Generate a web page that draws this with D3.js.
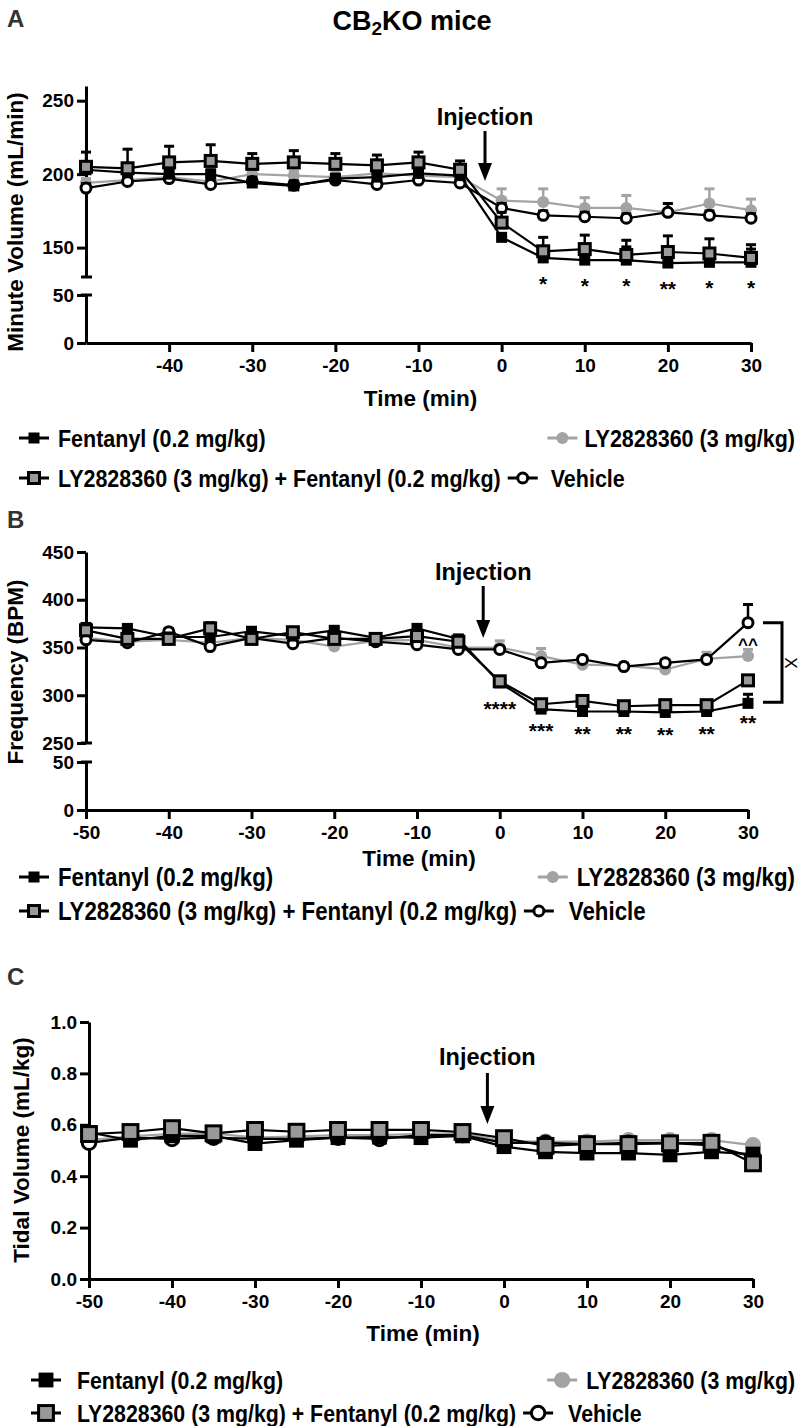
<!DOCTYPE html>
<html><head><meta charset="utf-8">
<script src="https://cdn.jsdelivr.net/npm/d3@7"></script>
<style>
body{margin:0;background:#fff}
text{font-family:"Liberation Sans",Arial,Helvetica,sans-serif;font-weight:bold;fill:#000}
</style>
</head><body>
<svg id="chart" width="800" height="1426"></svg>
<script>
// ---------------- DATA ----------------
const times = [-50,-45,-40,-35,-30,-25,-20,-15,-10,-5,0,5,10,15,20,25,30];
const seriesNames = ["Fentanyl (0.2 mg/kg)","LY2828360 (3 mg/kg) + Fentanyl (0.2 mg/kg)","LY2828360 (3 mg/kg)","Vehicle"];

// Panel A: Minute Volume (mL/min)
const mvFentanyl = [203,201,200,200,194,192,197,198,200.5,199,157,143,141.5,141.5,139.5,140,140];
const mvLyFent   = [205,204,208,209,207,208,207,206,208,203,167,147.5,149,145,147,146,143];
const mvLy       = [194,196,198,195,200,199,198,200.5,199,198,182,181,177,177,174,180,175.5];
const mvVehicle  = [190.5,195,197,193,195,192.5,196,193,196,194,177,172,171,170,174,172,170];
const mvFentanylSem = [3,3,3,3,2,2,3,3,3,3,2,3,3,9,3,3,12];
const mvLyFentSem   = [10,13,11,11,7,8,7,7,7,6,7,9.5,9.5,10,11,10,6];
const mvLySem       = [3,3,3,3,3,3,3,3,3,3,8,9,7,8.5,6,10,7.5];
const mvVehicleSem  = [3,3,3,3,3,3,3,3,3,3,3,3,3,3,6,3,3];
const mvStarTimes = [5,10,15,20,25,30];
const mvStars = ["*","*","*","**","*","*"];
const mvTicksUpper = [150,200,250];
const mvTicksLower = [0,50];

// Panel B: Frequency (BPM)
const frFentanyl = [371,370,361,361,367,362,368,360,370,359,313,285.5,283,283,282,283,291.5];
const frLyFent   = [368,359,359,370,359,366,359,359,362,356,314.6,290.6,294,288.5,289.6,289.6,315.6];
const frLy       = [360,356,358,355,360,358,351,357,358,350,350,341,332,331,327,338,341];
const frVehicle  = [358,355,366.6,351,360,354,360,356,353,348,348,334,337.5,330,334,337.5,376];
const frFentanylSem = [3,3,3,3,3,3,3,3,3,3,3,3,3,3,3,3,9.5];
const frLyFentSem   = [3,3,3,6,3,3,3,3,3,3,3,3,3,3,3,3,3];
const frLySem       = [3,3,3,3,3,3,3,3,3,3,7,8,3,3,3,7,7];
const frVehicleSem  = [3,3,3,3,3,3,3,3,3,3,3,3,3,3,3,3,19];
const frStarTimes = [0,5,10,15,20,25,30];
const frStars = ["****","***","**","**","**","**","**"];
const frTicksUpper = [250,300,350,400,450];
const frTicksLower = [0,50];

// Panel C: Tidal Volume (mL/kg)
const tvFentanyl = [0.57,0.54,0.557,0.557,0.527,0.54,0.55,0.552,0.55,0.557,0.515,0.495,0.49,0.49,0.483,0.495,0.486];
const tvLyFent   = [0.564,0.572,0.587,0.567,0.58,0.573,0.58,0.58,0.58,0.572,0.548,0.518,0.525,0.525,0.528,0.53,0.45];
const tvLy       = [0.54,0.555,0.565,0.567,0.55,0.555,0.56,0.56,0.565,0.567,0.536,0.535,0.535,0.54,0.54,0.54,0.521];
const tvVehicle  = [0.53,0.55,0.545,0.55,0.545,0.545,0.55,0.545,0.56,0.56,0.53,0.53,0.525,0.53,0.53,0.52,0.475];
const tvSem      = [0,0,0,0,0,0,0,0,0,0,0,0,0,0,0,0,0];
const tvTicks = [0,0.2,0.4,0.6,0.8,1.0];

const xTicksA = [-40,-30,-20,-10,0,10,20,30];
const xTicksBC = [-50,-40,-30,-20,-10,0,10,20,30];
const injectionTime = -2;

// ---------------- DRAWING ----------------
const svg = d3.select("#chart");
const GRAY = "#a3a3a3", SQFILL = "#999999";
const SX = 0.87; // horizontal condensation of legend text

function styleFor(i, big){
  const k = big ? 1.35 : 1;
  return [
    {line:"#000", err:"#000", shape:"square", size:11*k, fill:"#000", stroke:"none", sw:0},
    {line:"#000", err:"#000", shape:"square", size:11*k, fill:SQFILL, stroke:"#000", sw:3},
    {line:GRAY, err:GRAY, shape:"circle", size:6*k, fill:GRAY, stroke:"none", sw:0},
    {line:"#000", err:"#000", shape:"circle", size:5*k, fill:"#fff", stroke:"#000", sw:3}
  ][i];
}

function drawMarker(g, st, cx, cy){
  if(st.shape==="square"){
    g.append("rect").attr("x",cx-st.size/2).attr("y",cy-st.size/2)
      .attr("width",st.size).attr("height",st.size)
      .attr("fill",st.fill).attr("stroke",st.stroke).attr("stroke-width",st.sw);
  } else {
    g.append("circle").attr("cx",cx).attr("cy",cy).attr("r",st.size)
      .attr("fill",st.fill).attr("stroke",st.stroke).attr("stroke-width",st.sw);
  }
}

function styleAxis(g, fs){
  g.select(".domain").attr("stroke","#000").attr("stroke-width",3);
  g.selectAll(".tick line").attr("stroke","#000").attr("stroke-width",3);
  g.selectAll(".tick text").attr("fill","#000").style("font-size",fs+"px")
    .style("font-family",'"Liberation Sans",Arial,sans-serif').style("font-weight","bold");
}

const hyphenInt = d => String(d);
const hyphenOne = d => d.toFixed(1);

function drawPanel(p){
  const g = svg.append("g");
  const x = d3.scaleLinear().domain([-50,30]).range(p.xRange);
  const segs = p.segments.map(s => ({...s, scale: d3.scaleLinear().domain(s.domain).range(s.range)}));
  const y = v => { const s = segs.find(s => v>=s.domain[0]-1e-9 && v<=s.domain[1]+1e-9) || segs[segs.length-1]; return s.scale(v); };
  const axX = p.xRange[0];

  segs.forEach((s,i) => {
    const ax = g.append("g").attr("transform",`translate(${axX},0)`)
      .call(d3.axisLeft(s.scale).tickValues(s.ticks).tickSize(9).tickSizeOuter(0).tickPadding(3)
        .tickFormat(p.yFormat || hyphenInt));
    styleAxis(ax, p.tickFs);
    if(segs.length>1){
      if(i===0) g.append("line").attr("x1",axX-5).attr("x2",axX+6).attr("y1",s.range[0]).attr("y2",s.range[0]).attr("stroke","#000").attr("stroke-width",3);
      if(i===1) g.append("line").attr("x1",axX-5).attr("x2",axX+6).attr("y1",s.range[1]).attr("y2",s.range[1]).attr("stroke","#000").attr("stroke-width",3);
    }
  });
  const xa = g.append("g").attr("transform",`translate(0,${p.xAxisY})`)
    .call(d3.axisBottom(x).tickValues(p.xTicks).tickSize(9).tickSizeOuter(0).tickPadding(7).tickFormat(hyphenInt));
  styleAxis(xa, p.tickFs);

  g.append("text").attr("transform",`translate(${p.yTitleX},${p.yTitleY}) rotate(-90)`)
    .attr("text-anchor","middle").style("font-size",p.titleFs+"px").text(p.yTitle);
  g.append("text").attr("x",(x(-50)+x(30))/2+2).attr("y",p.xTitleY).attr("text-anchor","middle")
    .style("font-size",p.titleFs+"px").text("Time (min)");
  g.append("text").attr("x",7).attr("y",p.letterY).style("font-size","24px").style("fill","#333").text(p.letter);

  const ix = x(injectionTime);
  g.append("text").attr("x",ix).attr("y",p.injTextY).attr("text-anchor","middle").style("font-size","23.5px").text("Injection");
  g.append("line").attr("x1",ix).attr("x2",ix).attr("y1",p.arrow[0]).attr("y2",p.arrow[1]-14).attr("stroke","#000").attr("stroke-width",3);
  g.append("path").attr("d",`M${ix-7},${p.arrow[1]-18}L${ix+7},${p.arrow[1]-18}L${ix},${p.arrow[1]}Z`).attr("fill","#000");

  const order = [2,3,0,1];
  order.forEach(si => {
    const vals = p.series[si], sem = p.sems[si];
    const st = styleFor(si, p.big);
    const sg = g.append("g");
    times.forEach((t,i) => {
      if(!sem[i]) return;
      const cx = x(t), cy = y(vals[i]), ty = y(vals[i]+sem[i]);
      sg.append("line").attr("x1",cx).attr("x2",cx).attr("y1",cy).attr("y2",ty).attr("stroke",st.err).attr("stroke-width",2.5);
      sg.append("line").attr("x1",cx-5).attr("x2",cx+5).attr("y1",ty).attr("y2",ty).attr("stroke",st.err).attr("stroke-width",3);
    });
    sg.append("path").datum(vals).attr("fill","none").attr("stroke",st.line).attr("stroke-width",2.2)
      .attr("d", d3.line().x((d,i)=>x(times[i])).y(d=>y(d)));
    times.forEach((t,i) => drawMarker(sg, st, x(t), y(vals[i])));
  });

  if(p.starTimes){
    p.starTimes.forEach((t,i) => {
      const fi = times.indexOf(t);
      g.append("text").attr("x",x(t)).attr("y",y(p.series[0][fi])+p.starOffset[i])
        .attr("text-anchor","middle").style("font-size","21px").text(p.stars[i]);
    });
  }
  return {x,y,g};
}

function legendText(g, str, tx, ty, fs, end){
  const t = g.append("text").attr("transform",`translate(${tx},${ty}) scale(${SX},1)`)
    .attr("dy","0.36em").style("font-size",fs+"px").text(str);
  if(end) t.attr("text-anchor","end");
  return t.node().getComputedTextLength()*SX;
}
function legendSymbol(g, si, cx, ty, big){
  const st = styleFor(si, big);
  g.append("line").attr("x1",cx-15).attr("x2",cx+15).attr("y1",ty).attr("y2",ty).attr("stroke",st.line).attr("stroke-width",3);
  drawMarker(g, st, cx, ty);
}
function drawLegend(L){
  const g = svg.append("g");
  legendSymbol(g, 0, L.lx, L.r1, L.big);
  legendText(g, seriesNames[0], L.tx, L.r1, L.fs);
  legendSymbol(g, 1, L.lx, L.r2, L.big);
  const w2 = legendText(g, seriesNames[1], L.tx, L.r2, L.fs);
  const w3 = legendText(g, seriesNames[2], 795, L.r1, L.fs, true);
  legendSymbol(g, 2, 795 - w3 - L.rgap, L.r1, L.big);
  const vx = L.tx + w2 + L.vgap;
  legendSymbol(g, 3, vx, L.r2, L.big);
  legendText(g, seriesNames[3], vx + L.rgap + 6, L.r2, L.fs);
}

// Title
svg.append("text").attr("x",412).attr("y",30).attr("text-anchor","middle").style("font-size","27px")
  .call(t => { t.append("tspan").text("CB"); t.append("tspan").attr("baseline-shift","-25%").style("font-size","19px").text("2"); t.append("tspan").text("KO mice"); });

// Panel A
drawPanel({
  letter:"A", letterY:27, xRange:[86,751], xAxisY:343,
  segments:[{domain:[130,260],range:[277,86],ticks:mvTicksUpper},{domain:[0,50],range:[343,295],ticks:mvTicksLower}],
  xTicks:xTicksA, tickFs:19, titleFs:22.5,
  yTitle:"Minute Volume (mL/min)", yTitleX:23, yTitleY:222, xTitleY:406,
  injTextY:125, arrow:[131,181],
  series:[mvFentanyl,mvLyFent,mvLy,mvVehicle], sems:[mvFentanylSem,mvLyFentSem,mvLySem,mvVehicleSem],
  starTimes:mvStarTimes, stars:mvStars, starOffset:[33,33,33,33,33,33]
});
drawLegend({fs:24.7, lx:34, tx:58, r1:438, r2:478, rgap:22, vgap:22, big:false});

// Panel B
const pb = drawPanel({
  letter:"B", letterY:528, xRange:[86,748], xAxisY:810,
  segments:[{domain:[250,450],range:[743,552],ticks:frTicksUpper},{domain:[0,50],range:[810,762],ticks:frTicksLower}],
  xTicks:xTicksBC, tickFs:19, titleFs:22.5,
  yTitle:"Frequency (BPM)", yTitleX:23, yTitleY:672, xTitleY:866,
  injTextY:580, arrow:[586,638],
  series:[frFentanyl,frLyFent,frLy,frVehicle], sems:[frFentanylSem,frLyFentSem,frLySem,frVehicleSem],
  starTimes:frStarTimes, stars:frStars, starOffset:[33,29,30,30,30,30,27]
});
pb.g.append("text").attr("x",pb.x(30)).attr("y",pb.y(frLy[16])-6).attr("text-anchor","middle").style("font-size","17px").text("^^");
pb.g.append("path").attr("d",`M763,${pb.y(frVehicle[16])}H782V${pb.y(frFentanyl[16])-1}H763`).attr("fill","none").attr("stroke","#000").attr("stroke-width",3);
pb.g.append("text").attr("transform",`translate(791,${(pb.y(frVehicle[16])+pb.y(frFentanyl[16]))/2}) rotate(90)`)
  .attr("text-anchor","middle").attr("dy","0.36em").style("font-size","17px").style("font-weight","normal").text("X");
drawLegend({fs:25.6, lx:34, tx:58, r1:877, r2:911, rgap:24, vgap:22, big:false});

// Panel C
drawPanel({
  letter:"C", letterY:985, xRange:[89,753], xAxisY:1279,
  segments:[{domain:[0,1],range:[1279,1022],ticks:tvTicks}],
  yFormat:hyphenOne,
  xTicks:xTicksBC, tickFs:19, titleFs:22.5,
  yTitle:"Tidal Volume (mL/kg)", yTitleX:29, yTitleY:1150, xTitleY:1341,
  injTextY:1065, arrow:[1073,1124],
  series:[tvFentanyl,tvLyFent,tvLy,tvVehicle], sems:[tvSem,tvSem,tvSem,tvSem],
  big:true
});
drawLegend({fs:24.5, lx:46, tx:77, r1:1380, r2:1413, rgap:24, vgap:22, big:true});
</script>
</body></html>
